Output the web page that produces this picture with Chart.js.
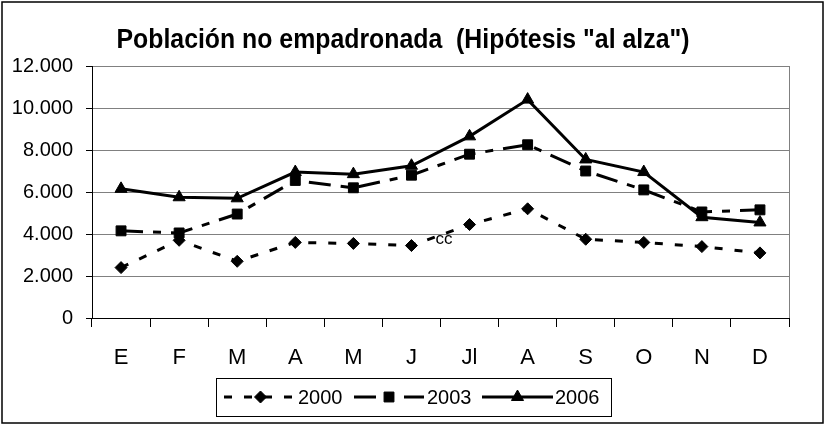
<!DOCTYPE html>
<html>
<head>
<meta charset="utf-8">
<script src="https://cdn.jsdelivr.net/npm/chart.js@4"></script>
<style>
  html, body { margin: 0; padding: 0; background: #fff; }
  #grafiek { display: block; }
</style>
</head>
<body>
<canvas id="grafiek" width="825" height="426"></canvas>
<script>
// Gegevens
const maanden = ['E', 'F', 'M', 'A', 'M', 'J', 'Jl', 'A', 'S', 'O', 'N', 'D'];
const reeks2000 = [2400, 3700, 2700, 3600, 3550, 3450, 4450, 5200, 3750, 3600, 3400, 3100];
const reeks2003 = [4150, 4050, 4950, 6550, 6200, 6800, 7800, 8250, 7000, 6100, 5050, 5150];
const reeks2006 = [6150, 5750, 5700, 6950, 6850, 7250, 8650, 10400, 7550, 6950, 4800, 4550];
const legendaLabels = ['2000', '2003', '2006'];
const yTicks = [0, 2000, 4000, 6000, 8000, 10000, 12000];

const titel = 'Población no empadronada  (Hipótesis "al alza")';
const notitie = 'cc';
const lettertype = '"Liberation Sans", Arial, sans-serif';

function formatGetal(v) {
    // punt als duizendtal-scheiding
    return String(v).replace(/\B(?=(\d{3})+(?!\d))/g, '.');
}

function lijn(label, data, stijl, radius, dash) {
    return {
        label: label,
        data: data,
        borderColor: '#000',
        backgroundColor: '#000',
        borderWidth: 3,
        borderDash: dash,
        tension: 0,
        pointStyle: stijl,
        pointRadius: radius,
        pointHoverRadius: radius,
        pointBackgroundColor: '#000',
        pointBorderColor: '#000',
        pointBorderWidth: 1
    };
}

// Eigen tekenwerk: rand, titel, notitie en legenda zoals in het origineel
const extraTekenen = {
    id: 'extraTekenen',
    beforeDatasetsDraw(chart) {
        const ctx = chart.ctx;
        const a = chart.chartArea;
        ctx.save();
        ctx.strokeStyle = '#808080';
        ctx.lineWidth = 1;
        ctx.beginPath();
        ctx.moveTo(Math.round(a.right) + 0.5, a.top);
        ctx.lineTo(Math.round(a.right) + 0.5, a.bottom);
        ctx.stroke();
        ctx.restore();
    },
    afterDraw(chart) {
        const ctx = chart.ctx;
        ctx.save();

        // buitenrand
        ctx.strokeStyle = '#000';
        ctx.lineWidth = 1.5;
        ctx.strokeRect(2, 2, 821, 421);

        // titel (iets smaller getekend, zoals in het origineel)
        ctx.fillStyle = '#000';
        ctx.font = 'bold 27px ' + lettertype;
        ctx.textAlign = 'center';
        ctx.textBaseline = 'alphabetic';
        const doelBreedte = 573;
        const w = ctx.measureText(titel).width;
        ctx.translate(403, 48);
        ctx.scale(Math.min(1, doelBreedte / w), 1);
        ctx.fillText(titel, 0, 0);
        ctx.setTransform(1, 0, 0, 1, 0, 0);

        // notitie in het plotvlak
        ctx.font = '17px ' + lettertype;
        ctx.textAlign = 'center';
        ctx.textBaseline = 'middle';
        ctx.fillText(notitie, 444, 239);

        // legenda
        ctx.strokeStyle = '#000';
        ctx.lineWidth = 1;
        ctx.strokeRect(216.5, 378.5, 395, 38);
        const items = [
            { x0: 224, x1: 297, tx: 298 },
            { x0: 354, x1: 424, tx: 427 },
            { x0: 482, x1: 553, tx: 555 }
        ];
        const ly = 397;
        ctx.font = '20px ' + lettertype;
        ctx.textAlign = 'left';
        ctx.textBaseline = 'middle';
        items.forEach(function(it, i) {
            const ds = chart.data.datasets[i];
            ctx.save();
            ctx.strokeStyle = '#000';
            ctx.lineWidth = ds.borderWidth;
            ctx.setLineDash(ds.borderDash || []);
            ctx.beginPath();
            ctx.moveTo(it.x0, ly);
            ctx.lineTo(it.x1, ly);
            ctx.stroke();
            ctx.restore();
            ctx.fillStyle = '#000';
            ctx.strokeStyle = '#000';
            ctx.lineWidth = 1;
            Chart.helpers.drawPoint(ctx, {
                pointStyle: ds.pointStyle,
                radius: ds.pointRadius,
                rotation: 0,
                borderWidth: 1
            }, (it.x0 + it.x1) / 2, ly);
            ctx.fillStyle = '#000';
            ctx.fillText(legendaLabels[i], it.tx, ly + 1);
        });

        ctx.restore();
    }
};

const ctx = document.getElementById('grafiek').getContext('2d');
new Chart(ctx, {
    type: 'line',
    data: {
        labels: maanden,
        datasets: [
            lijn(legendaLabels[0], reeks2000, 'rectRot', 6, [8, 12]),
            lijn(legendaLabels[1], reeks2003, 'rect', 7, [22, 10, 8, 10]),
            lijn(legendaLabels[2], reeks2006, 'triangle', 7, [])
        ]
    },
    options: {
        responsive: false,
        animation: false,
        devicePixelRatio: 1,
        layout: { padding: { left: 0, right: 36, top: 66, bottom: 0 } },
        plugins: {
            legend: { display: false },
            title: { display: false },
            tooltip: { enabled: false }
        },
        scales: {
            x: {
                offset: true,
                grid: {
                    offset: true,
                    drawOnChartArea: false,
                    drawTicks: true,
                    tickLength: 9,
                    tickColor: '#000'
                },
                border: { display: true, color: '#000', width: 1 },
                ticks: {
                    color: '#000',
                    font: { family: lettertype, size: 22 },
                    padding: 18,
                    maxRotation: 0,
                    autoSkip: false
                },
                afterFit: function(scale) { scale.height = 108; }
            },
            y: {
                min: yTicks[0],
                max: yTicks[yTicks.length - 1],
                afterBuildTicks: function(scale) {
                    scale.ticks = yTicks.map(function(v) { return { value: v }; });
                },
                grid: {
                    color: '#808080',
                    lineWidth: 1,
                    drawTicks: true,
                    tickLength: 6,
                    tickColor: '#000'
                },
                border: { display: true, color: '#000', width: 1 },
                ticks: {
                    color: '#000',
                    font: { family: lettertype, size: 20 },
                    padding: 13,
                    callback: function(v) { return formatGetal(v); }
                },
                afterFit: function(scale) { scale.width = 92; }
            }
        }
    },
    plugins: [extraTekenen]
});
</script>
</body>
</html>
